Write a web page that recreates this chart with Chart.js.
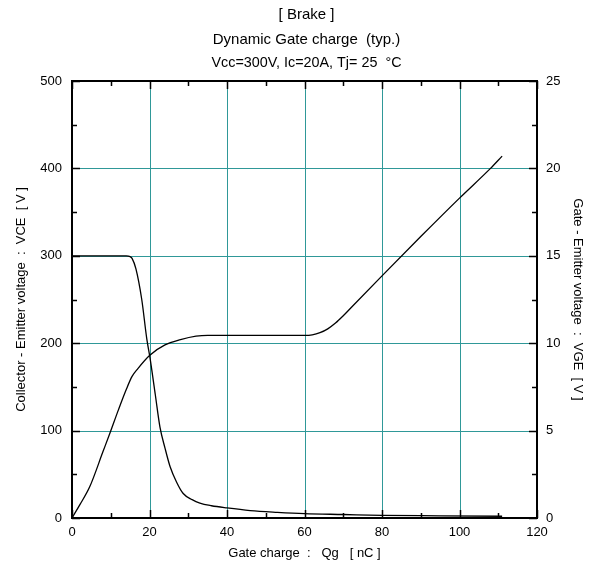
<!DOCTYPE html>
<html>
<head>
<meta charset="utf-8">
<script src="https://cdn.jsdelivr.net/npm/chart.js@4.4.1/dist/chart.umd.min.js"></script>
<style>
html, body { margin: 0; padding: 0; background: #fff; }
#wrap { width: 595px; height: 569px; }
</style>
</head>
<body>
<div id="wrap"><canvas id="chart"></canvas></div>
<script>
// Dynamic gate charge curves (brake IGBT)
const titleLines = ['[ Brake ]', 'Dynamic Gate charge  (typ.)', 'Vcc=300V, Ic=20A, Tj= 25  \u00B0C'];

// VCE vs Qg (left axis)
const qgVce = [0, 14, 15, 15.5, 16.5, 18, 19.3, 20.1, 21.5, 22.7, 24, 25.3, 27, 28.7, 31, 33, 36, 40, 46, 53, 60, 70, 80, 95, 111];
const vce   = [300, 300, 299, 297, 285, 250, 205, 184, 141, 104, 80, 59, 41, 28, 21, 17, 14, 11.5, 8.5, 6.5, 5, 4, 3, 2.5, 2];

// VGE vs Qg (right axis)
const qgVge = [0, 2, 4.6, 8, 9.8, 12, 14, 15.5, 17, 20, 24, 28, 32, 35, 60, 62, 64, 66, 68, 70, 72, 80, 90, 100, 108, 111];
const vge   = [0, 0.75, 1.8, 3.8, 4.86, 6.2, 7.35, 8.1, 8.55, 9.3, 9.9, 10.2, 10.4, 10.45, 10.45, 10.48, 10.6, 10.82, 11.15, 11.57, 12.03, 13.85, 16.1, 18.3, 20.0, 20.7];

const xTicks = [0, 20, 40, 60, 80, 100, 120];
const yTicks = [0, 100, 200, 300, 400, 500];
const y1Ticks = [0, 5, 10, 15, 20, 25];

const gridColor = '#2f9898';
const fontFamily = '"Liberation Sans", Arial, sans-serif';

function toPoints(xs, ys) {
    return xs.map((x, i) => ({ x: x, y: ys[i] }));
}

// Title text above the plot
const titlePlugin = {
    id: 'titleLines',
    afterDraw(chart) {
        const ctx = chart.ctx;
        const cx = (chart.chartArea.left + chart.chartArea.right) / 2 + 2;
        const ys = [15, 40, 63];
        ctx.save();
        ctx.fillStyle = '#000';
        ctx.font = '15px ' + fontFamily;
        ctx.textAlign = 'center';
        ctx.textBaseline = 'middle';
        titleLines.forEach((t, i) => ctx.fillText(t, cx, ys[i], 190));
        ctx.restore();
    }
};

// Crisp teal gridlines at the major ticks
const gridPlugin = {
    id: 'crispGrid',
    beforeDatasetsDraw(chart) {
        const { ctx, chartArea: a, scales } = chart;
        ctx.save();
        ctx.strokeStyle = gridColor;
        ctx.lineWidth = 1;
        ctx.beginPath();
        xTicks.forEach(v => {
            const px = Math.round(scales.x.getPixelForValue(v)) + 0.5;
            ctx.moveTo(px, a.top); ctx.lineTo(px, a.bottom);
        });
        yTicks.forEach(v => {
            const py = Math.round(scales.y.getPixelForValue(v)) + 0.5;
            ctx.moveTo(a.left, py); ctx.lineTo(a.right, py);
        });
        ctx.stroke();
        ctx.restore();
    }
};

// Inward tick marks and frame
const frameTicks = {
    id: 'frameTicks',
    afterDraw(chart) {
        const { ctx, chartArea: a, scales } = chart;
        ctx.save();
        ctx.strokeStyle = '#000';
        ctx.lineWidth = 1.5;
        ctx.beginPath();
        for (let v = 0; v <= 120; v += 10) {
            const px = Math.round(scales.x.getPixelForValue(v)) + 0.5;
            const len = v % 20 === 0 ? 8 : 5;
            ctx.moveTo(px, a.bottom); ctx.lineTo(px, a.bottom - len);
            ctx.moveTo(px, a.top); ctx.lineTo(px, a.top + len);
        }
        for (let v = 0; v <= 500; v += 50) {
            const py = Math.round(scales.y.getPixelForValue(v)) + 0.5;
            const len = v % 100 === 0 ? 8 : 5;
            ctx.moveTo(a.left, py); ctx.lineTo(a.left + len, py);
        }
        for (let v = 0; v <= 25; v += 2.5) {
            const py = Math.round(scales.y1.getPixelForValue(v)) + 0.5;
            const len = v % 5 === 0 ? 8 : 5;
            ctx.moveTo(a.right, py); ctx.lineTo(a.right - len, py);
        }
        ctx.stroke();
        ctx.lineWidth = 2;
        ctx.strokeRect(a.left, a.top, a.right - a.left, a.bottom - a.top);
        ctx.restore();
    }
};

const ctx = document.getElementById('chart');
new Chart(ctx, {
    type: 'line',
    data: {
        datasets: [{
            label: 'VCE',
            data: toPoints(qgVce, vce),
            yAxisID: 'y',
            borderColor: '#000',
            borderWidth: 1.3,
            pointRadius: 0,
            cubicInterpolationMode: 'monotone',
            fill: false
        }, {
            label: 'VGE',
            data: toPoints(qgVge, vge),
            yAxisID: 'y1',
            borderColor: '#000',
            borderWidth: 1.3,
            pointRadius: 0,
            cubicInterpolationMode: 'monotone',
            fill: false
        }]
    },
    options: {
        responsive: true,
        maintainAspectRatio: false,
        animation: false,
        layout: { padding: { top: 81, left: 0, right: 0, bottom: 0 } },
        plugins: {
            legend: { display: false },
            tooltip: { enabled: false }
        },
        scales: {
            x: {
                type: 'linear',
                min: 0,
                max: 120,
                afterBuildTicks: s => { s.ticks = xTicks.map(v => ({ value: v })); },
                afterFit: s => { s.height = 51; },
                grid: { display: false, drawTicks: false },
                border: { display: false },
                ticks: { color: '#000', padding: 7, font: { family: fontFamily, size: 13 } },
                title: {
                    display: true,
                    text: 'Gate charge  :   Qg   [ nC ]',
                    color: '#000',
                    font: { family: fontFamily, size: 13 },
                    padding: { top: 0, bottom: 8 }
                }
            },
            y: {
                position: 'left',
                min: 0,
                max: 500,
                afterBuildTicks: s => { s.ticks = yTicks.map(v => ({ value: v })); },
                afterFit: s => { s.width = 72; },
                grid: { display: false, drawTicks: false },
                border: { display: false },
                ticks: { color: '#000', padding: 10, font: { family: fontFamily, size: 13 } },
                title: {
                    display: true,
                    text: 'Collector - Emitter voltage  :  VCE  [ V ]',
                    color: '#000',
                    font: { family: fontFamily, size: 13 },
                    padding: { top: 14, bottom: 0 }
                }
            },
            y1: {
                position: 'right',
                min: 0,
                max: 25,
                afterBuildTicks: s => { s.ticks = y1Ticks.map(v => ({ value: v })); },
                afterFit: s => { s.width = 58; },
                grid: { display: false, drawTicks: false },
                border: { display: false },
                ticks: { color: '#000', padding: 9, font: { family: fontFamily, size: 13 } },
                title: {
                    display: true,
                    text: 'Gate - Emitter voltage  :  VGE  [ V ]',
                    color: '#000',
                    font: { family: fontFamily, size: 13 },
                    padding: { top: 10, bottom: 0 }
                }
            }
        }
    },
    plugins: [titlePlugin, gridPlugin, frameTicks]
});
</script>
</body>
</html>
